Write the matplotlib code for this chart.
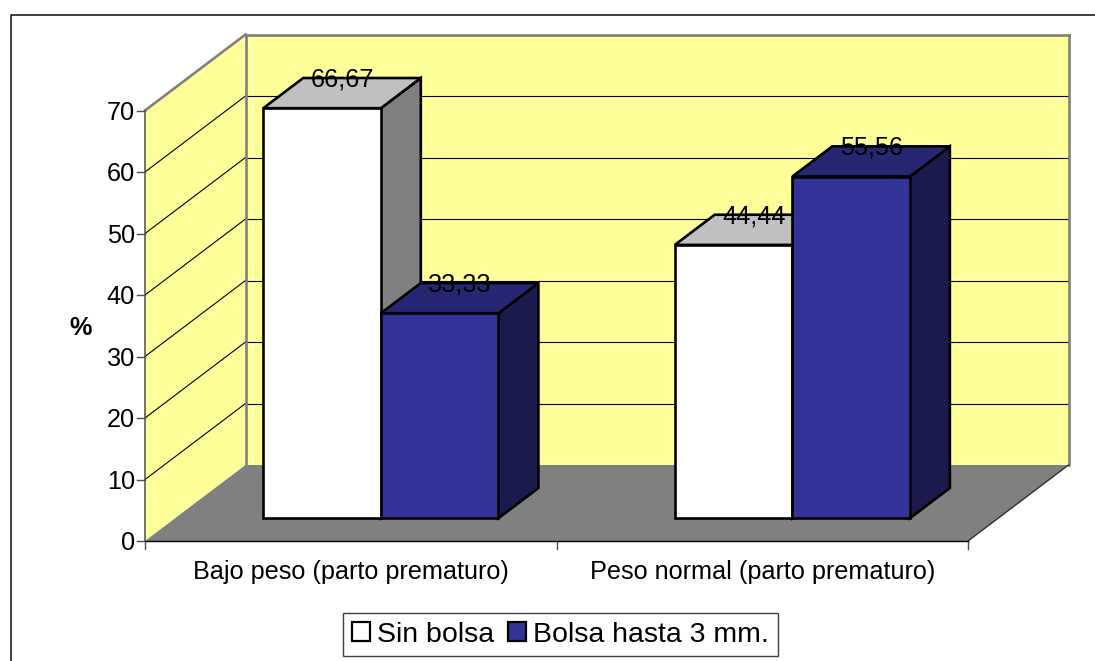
import matplotlib
matplotlib.use('Agg')
import matplotlib.pyplot as plt
from matplotlib.patches import Patch, Polygon

categories = ['Bajo peso (parto prematuro)', 'Peso normal (parto prematuro)']
series_names = ['Sin bolsa', 'Bolsa hasta 3 mm.']
sin_bolsa = [66.67, 44.44]
bolsa_3mm = [33.33, 55.56]
value_labels = [['66,67', '44,44'], ['33,33', '55,56']]
y_ticks = [0, 10, 20, 30, 40, 50, 60, 70]
y_title = '%'

WALL = '#FFFF99'
FLOOR = '#808080'
EDGE = '#808080'
# front, top, side colours per series
BAR_COLORS = [('#FFFFFF', '#C0C0C0', '#808080'),
              ('#333399', '#262673', '#1A1A4D')]

W, H = 1095, 661
# pixel box of the front plane of the plot
LEFT, RIGHT, TOP, BOTTOM = 145, 968, 110.5, 541

plt.rcParams['font.family'] = ['Liberation Sans', 'DejaVu Sans']
fig = plt.figure(figsize=(W / 100, H / 100), dpi=100, facecolor='white')
ax = fig.add_axes([LEFT / W, 1 - BOTTOM / H, (RIGHT - LEFT) / W, (BOTTOM - TOP) / H])
ax.set_xlim(0, len(categories))
ax.set_ylim(0, 70)
ax.axis('off')
FS = 18.2

# oblique depth: how far the back plane shifts, in data units
DEPTH_X = 100.5 / ((RIGHT - LEFT) / len(categories))
DEPTH_Y = 76 / ((BOTTOM - TOP) / 70)
N_CAT = len(categories)
VMAX = y_ticks[-1]


def pt(x, v, d=0.0):
    return (x + DEPTH_X * d, v + DEPTH_Y * d)


def face(points, fc, ec='none', lw=0, z=1):
    ax.add_patch(Polygon(points, closed=True, facecolor=fc, edgecolor=ec, linewidth=lw,
                         joinstyle='miter', clip_on=False, zorder=z))


def line(a, b, color='black', lw=0.8, z=2):
    ax.plot([a[0], b[0]], [a[1], b[1]], color=color, lw=lw, clip_on=False,
            solid_capstyle='projecting', zorder=z)


# walls and floor
face([pt(0, 0, 1), pt(N_CAT, 0, 1), pt(N_CAT, VMAX, 1), pt(0, VMAX, 1)], WALL)
face([pt(0, 0), pt(0, 0, 1), pt(0, VMAX, 1), pt(0, VMAX)], WALL)

for v in y_ticks[1:-1]:
    line(pt(0, v), pt(0, v, 1))
    line(pt(0, v, 1), pt(N_CAT, v, 1))

# grey wall outlines
line(pt(0, VMAX), pt(0, VMAX, 1), EDGE, 1.9)
line(pt(0, VMAX, 1), pt(N_CAT, VMAX, 1), EDGE, 1.9)
line(pt(0, 0, 1), pt(0, VMAX, 1), EDGE, 1.9)
line(pt(N_CAT, 0, 1), pt(N_CAT, VMAX, 1), EDGE, 1.9)
face([pt(0, 0), pt(N_CAT, 0), pt(N_CAT, 0, 1), pt(0, 0, 1)], FLOOR, z=3)
line(pt(0, 0), pt(0, VMAX), '#505050', 1.1, z=4)

# axis lines along the floor
line(pt(0, 0), pt(N_CAT, 0), 'black', 1.0, z=4)
line(pt(N_CAT, 0), pt(N_CAT, 0, 1), '#303030', 1.0, z=4)

# tick marks and labels
tick_w = 8 / ((RIGHT - LEFT) / N_CAT)
tick_h = 8 / ((BOTTOM - TOP) / 70)
for v in y_ticks:
    line((-tick_w, v), (0, v), '#505050', 1.0)
    ax.text(-tick_w - 0.005, v - 0.35, str(v), ha='right', va='center', fontsize=FS,
            color='black', clip_on=False)
for i in range(N_CAT + 1):
    line((i, 0), (i, -tick_h), '#505050', 1.0)
for i, name in enumerate(categories):
    ax.text(i + 0.5, -5.1, name, ha='center', va='center', fontsize=FS, color='black')
ax.text(-0.157, 34.7, y_title, ha='center', va='center', fontsize=FS, fontweight='bold',
        color='black')

# 3D columns, gap width 150 % and centred in the depth of the floor
bar_w = 1 / 3.5
d0, d1 = 0.3, 0.697
for s, values in enumerate([sin_bolsa, bolsa_3mm]):
    front, top, side = BAR_COLORS[s]
    for c, v in enumerate(values):
        x0 = c + 0.5 - bar_w + s * bar_w
        x1 = x0 + bar_w
        kw = dict(ec='black', lw=1.9, z=5 + s * 2 + c)
        face([pt(x1, 0, d0), pt(x1, 0, d1), pt(x1, v, d1), pt(x1, v, d0)], side, **kw)
        face([pt(x0, v, d0), pt(x1, v, d0), pt(x1, v, d1), pt(x0, v, d1)], top, **kw)
        face([pt(x0, 0, d0), pt(x1, 0, d0), pt(x1, v, d0), pt(x0, v, d0)], front, **kw)
        tx, ty = pt(x0 + bar_w / 2, v, 0.5)
        ax.text(tx, ty + 2.2, value_labels[s][c], ha='center', va='center', fontsize=FS,
                color='black', zorder=20)

# chart frame: left side and top only, running off the image
fig.add_artist(plt.Line2D([10.5 / W, 10.5 / W, 1], [0, 1 - 14.5 / H, 1 - 14.5 / H],
                          color='#202020', lw=1.2))

handles = [Patch(facecolor=BAR_COLORS[i][0], edgecolor='black', linewidth=1.6) for i in range(2)]
leg = fig.legend(handles, series_names, loc='center', bbox_to_anchor=(560.5 / W, 1 - 634.5 / H),
                 ncols=2, fontsize=20.5, frameon=True, fancybox=False, edgecolor='#404040',
                 framealpha=1, handlelength=0.63, handleheight=0.63, handletextpad=0.25,
                 columnspacing=0.5, borderpad=0.3, borderaxespad=0)
leg.get_frame().set_linewidth(1.0)

fig.savefig('out.png', dpi=100, facecolor='white')
